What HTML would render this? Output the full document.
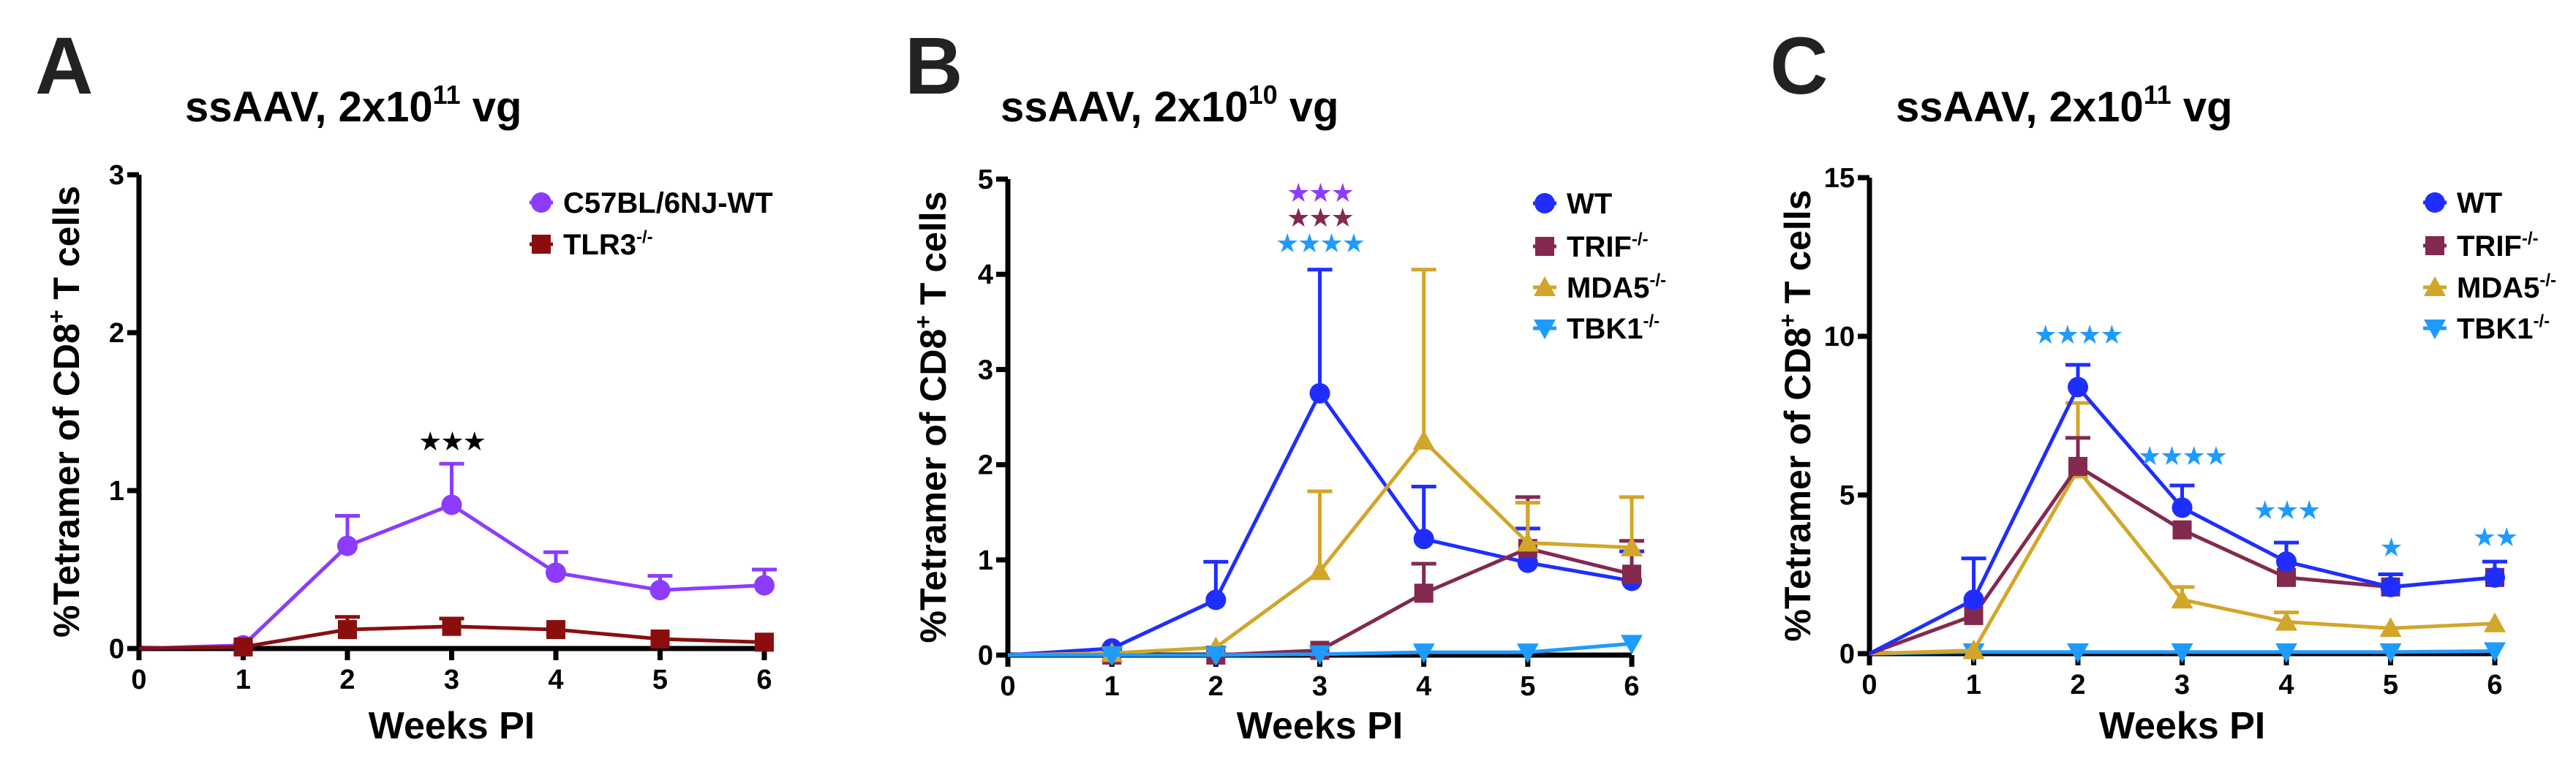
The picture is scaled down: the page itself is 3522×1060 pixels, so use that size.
<!DOCTYPE html>
<html><head><meta charset="utf-8"><style>
html,body{margin:0;padding:0;background:#fff;}
svg{display:block;font-family:"Liberation Sans",Arial,sans-serif;font-weight:bold;}
</style></head><body>
<svg id="fig" width="3522" height="1060" viewBox="0 0 3522 1060" xmlns="http://www.w3.org/2000/svg"></svg>
<script>
const weeks = [0,1,2,3,4,5,6];
// Panel A
const aWT = [0,0.02,0.65,0.91,0.48,0.37,0.40];
const aWTerr = [null,null,0.84,1.17,0.61,0.46,0.50];
const aTLR3 = [0,0.01,0.12,0.14,0.12,0.06,0.04];
const aTLR3err = [null,null,0.20,0.19,null,null,null];
// Panel B
const bWT = [0,0.07,0.58,2.75,1.22,0.97,0.78];
const bWTerr = [null,null,0.98,4.05,1.77,1.33,1.09];
const bTRIF = [0,0,0,0.05,0.65,1.12,0.85];
const bTRIFerr = [null,null,null,null,0.96,1.66,1.20];
const bMDA5 = [0,0.02,0.08,0.88,2.25,1.18,1.13];
const bMDA5err = [null,null,null,1.72,4.05,1.60,1.66];
const bTBK1 = [0,0,0,0.01,0.03,0.03,0.12];
// Panel C
const cWT = [0,1.7,8.4,4.6,2.9,2.1,2.4];
const cWTerr = [null,3.0,9.1,5.3,3.5,2.5,2.9];
const cTRIF = [0,1.2,5.9,3.9,2.4,2.1,2.4];
const cTRIFerr = [null,null,6.8,null,null,2.5,null];
const cMDA5 = [0,0.1,5.8,1.7,1.0,0.8,0.95];
const cMDA5err = [null,null,7.9,2.1,1.3,null,null];
const cTBK1 = [0,0.05,0.05,0.05,0.05,0.05,0.08];
const aTicks = [0,1,2,3];
const bTicks = [0,1,2,3,4,5];
const cTicks = [0,5,10,15];

const NS="http://www.w3.org/2000/svg";
const svg=document.getElementById('fig');
function mk(tag,attrs,parent){const e=document.createElementNS(NS,tag);for(const k in attrs)e.setAttribute(k,attrs[k]);(parent||svg).appendChild(e);return e;}
const COL={purple:'#8c3cff',dred:'#8b0e0e',blue:'#1f2eff',maroon:'#83294f',gold:'#d2a62a',lblue:'#1e9bff'};

function panel(cfg){
  const g=mk('g',{});
  
  
  const X=w=>cfg.x0+(cfg.x6-cfg.x0)*w/6;
  const Y=v=>cfg.y0-(cfg.y0-cfg.yt)*v/cfg.ymax;
  const L=mk('text',{x:cfg.lx,y:128,'font-size':110,fill:'#222'},g);L.textContent=cfg.letter;
  
  const T=mk('text',{x:cfg.tx,y:166,'font-size':58,fill:'#000'},g);
  
  T.innerHTML='ssAAV, 2x10<tspan dy="-24" font-size="36">'+cfg.exp+'</tspan><tspan dy="24"> vg</tspan>';
  cfg.series.forEach(s=>{
    if(!s.err)return;
    s.vals.forEach((v,i)=>{const e=s.err[i];if(e==null)return;
      const l=mk('path',{d:`M${X(weeks[i])},${Y(v)}V${Y(e)}M${X(weeks[i])-17},${Y(e)}H${X(weeks[i])+17}`,stroke:s.c,'stroke-width':5,fill:'none'},g);
      });
  });
  const ax=mk('path',{d:`M${cfg.x0},${cfg.yt}V${cfg.y0}H${cfg.x6}`,stroke:'#000','stroke-width':7,fill:'none'},g);
  
  weeks.forEach(w=>{mk('path',{d:`M${X(w)},${cfg.y0}v16`,stroke:'#000','stroke-width':7},g);
    const t=mk('text',{x:X(w),y:cfg.y0+55,'font-size':38,'text-anchor':'middle'},g);t.textContent=w;
    });
  cfg.ticks.forEach(v=>{mk('path',{d:`M${cfg.x0-16},${Y(v)}h16`,stroke:'#000','stroke-width':7},g);
    const t=mk('text',{x:cfg.x0-20,y:Y(v)+13,'font-size':38,'text-anchor':'end'},g);t.textContent=v;
    });
  const xt=mk('text',{x:(cfg.x0+cfg.x6)/2,y:1010,'font-size':52,'text-anchor':'middle'},g);xt.textContent='Weeks PI';
  
  const yt=mk('text',{x:0,y:0,'font-size':50,'text-anchor':'middle',transform:`translate(${cfg.ylx},${(cfg.y0+cfg.yt)/2}) rotate(-90)`},g);
  yt.innerHTML='%Tetramer of CD8<tspan dy="-20" font-size="32">+</tspan><tspan dy="20"> T cells</tspan>';
  
  cfg.series.forEach((s,si)=>{
    const d=s.vals.map((v,i)=>(i?'L':'M')+X(weeks[i])+','+Y(v)).join('');
    const p=mk('path',{d,stroke:s.c,'stroke-width':5,fill:'none','stroke-linejoin':'round'},g);
    
    s.vals.forEach((v,i)=>{if(i===0)return;const m=marker(g,s.m,X(weeks[i]),Y(v),s.c);
      });
    const ly=cfg.legY[s.leg];
    const lm=marker(g,s.m,cfg.legX,ly,s.c);
    mk('path',{d:`M${cfg.legX-16},${ly}h32`,stroke:s.c,'stroke-width':5},g);
    const lt=mk('text',{x:cfg.legX+30,y:ly+14,'font-size':40},g);
    lt.innerHTML=s.label+(s.ko?'<tspan dy="-16" font-size="24">-/-</tspan>':'');
    
  });
  cfg.stars.forEach(st=>{
    const t=mk('text',{x:X(st.w),y:st.y+13,'font-size':36,'text-anchor':'middle',fill:st.c,'letter-spacing':'-2','font-family':'DejaVu Sans, sans-serif'},g);
    t.textContent=st.t;
  });
}
function marker(g,type,x,y,c){
  if(type==='circle')return mk('circle',{cx:x,cy:y,r:14,fill:c},g);
  if(type==='square')return mk('rect',{x:x-13,y:y-13,width:26,height:26,fill:c},g);
  if(type==='tri')return mk('path',{d:`M${x},${y-15}L${x+15},${y+12}H${x-15}Z`,fill:c},g);
  return mk('path',{d:`M${x-15},${y-12}H${x+15}L${x},${y+15}Z`,fill:c},g);
}
panel({name:'panel-a',letter:'A',lx:48,tx:253,exp:'11',x0:190,x6:1045,y0:887,yt:239,ymax:3,ticks:aTicks,ylx:108,
  legX:740,legY:[277,334],
  series:[{vals:aWT,err:aWTerr,c:COL.purple,m:'circle',label:'C57BL/6NJ-WT',leg:0},{vals:aTLR3,err:aTLR3err,c:COL.dred,m:'square',label:'TLR3',ko:1,leg:1}],
  stars:[{w:3,y:603,t:'★★★',c:'#000'}]});
panel({name:'panel-b',letter:'B',lx:1237,tx:1368,exp:'10',x0:1378,x6:2231,y0:896,yt:245,ymax:5,ticks:bTicks,ylx:1293,
  legX:2112,legY:[278,337,393,449],
  series:[{vals:bWT,err:bWTerr,c:COL.blue,m:'circle',label:'WT',leg:0},{vals:bTRIF,err:bTRIFerr,c:COL.maroon,m:'square',label:'TRIF',ko:1,leg:1},
    {vals:bMDA5,err:bMDA5err,c:COL.gold,m:'tri',label:'MDA5',ko:1,leg:2},{vals:bTBK1,err:null,c:COL.lblue,m:'inv',label:'TBK1',ko:1,leg:3}],
  stars:[{w:3,y:263,t:'★★★',c:'#8c3cff'},{w:3,y:297,t:'★★★',c:COL.maroon},{w:3,y:332,t:'★★★★',c:COL.lblue}]});
panel({name:'panel-c',letter:'C',lx:2420,tx:2592,exp:'11',x0:2556,x6:3411,y0:894,yt:243,ymax:15,ticks:cTicks,ylx:2475,
  legX:3329,legY:[277,336,393,449],
  series:[{vals:cTBK1,err:null,c:COL.lblue,m:'inv',label:'TBK1',ko:1,leg:3},{vals:cMDA5,err:cMDA5err,c:COL.gold,m:'tri',label:'MDA5',ko:1,leg:2},
    {vals:cTRIF,err:cTRIFerr,c:COL.maroon,m:'square',label:'TRIF',ko:1,leg:1},{vals:cWT,err:cWTerr,c:COL.blue,m:'circle',label:'WT',leg:0}],
  stars:[{w:2,y:457,t:'★★★★',c:COL.lblue},{w:3,y:623,t:'★★★★',c:COL.lblue},{w:4,y:697,t:'★★★',c:COL.lblue},{w:5,y:748,t:'★',c:COL.lblue},{w:6,y:734,t:'★★',c:COL.lblue}]});
</script>
</body></html>
